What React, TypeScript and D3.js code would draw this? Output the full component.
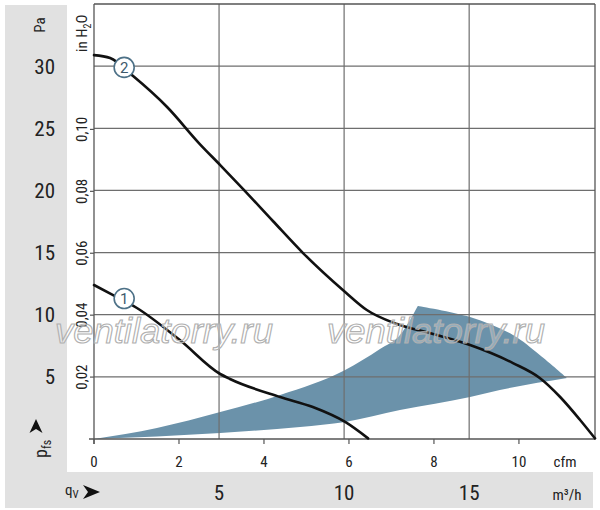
import React from "react";
import * as d3 from "d3";

// ---- data ----
const paTicks = [5, 10, 15, 20, 25, 30];
const inH2OTicks = [0.02, 0.04, 0.06, 0.08, 0.1];
const cfmTicks = [0, 2, 4, 6, 8, 10];
const m3hTicks = [5, 10, 15];

// curve 2 (cfm, Pa)
const curve2: [number, number][] = [
  [0, 30.89], [0.38, 30.65], [0.92, 29.2], [1.72, 26.71], [2.49, 23.73], [2.97, 22.04],
  [3.51, 20.11], [4.21, 17.54], [4.92, 14.96], [5.91, 11.83], [6.42, 10.38], [7.13, 9.25],
  [7.98, 8.45], [8.85, 7.56], [9.86, 6.11], [10.49, 4.91], [10.97, 3.38], [11.44, 1.53], [11.79, 0.05],
];
// curve 1 (cfm, Pa)
const curve1: [number, number][] = [
  [0, 12.39], [0.45, 11.58], [1.01, 10.54], [2.02, 7.96], [2.97, 5.23], [3.2, 4.83],
  [4.38, 3.38], [5.15, 2.57], [5.91, 1.37], [6.45, 0.05],
];
// operating area boundaries (cfm, Pa)
const areaUpper: [number, number][] = [
  [0, 0], [1.48, 0.89], [2.97, 2.17], [4.38, 3.54], [5.91, 5.55], [6.73, 7.24], [7.2, 8.37], [7.62, 10.7],
];
const areaArc: [number, number][] = [
  [7.62, 10.7], [8.85, 9.81], [9.86, 8.37], [10.49, 6.76], [11.13, 4.91],
];
const areaLower: [number, number][] = [
  [11.13, 4.91], [9.55, 3.94], [8.85, 3.38], [7.2, 2.33], [5.91, 1.37], [4.85, 0.97], [2.97, 0.48], [0, 0],
];
const curveLabels = [
  { id: "2", at: [0.71, 29.9] as [number, number] },
  { id: "1", at: [0.71, 11.3] as [number, number] },
];
const watermark = "ventilatorry.ru";

const PA_PER_INH2O = 249.09;
const CFM_PER_M3H = 1 / 1.699;

export default function App() {
  const W = 600, H = 510;
  const x = d3.scaleLinear().domain([0, 11.79]).range([94, 595]);
  const y = d3.scaleLinear().domain([0, 35]).range([439, 4]);
  const mono = d3.line<[number, number]>().x((d) => x(d[0])).y((d) => y(d[1])).curve(d3.curveMonotoneX);
  const cat = d3.line<[number, number]>().x((d) => x(d[0])).y((d) => y(d[1])).curve(d3.curveCatmullRom.alpha(0.5));
  const areaPath =
    (mono(areaUpper) || "") +
    (cat(areaArc) || "").replace(/^M/, "L") +
    (mono(areaLower) || "").replace(/^M/, "L") +
    "Z";
  const font = "'Liberation Sans Narrow', 'Roboto Condensed', Roboto, 'Liberation Sans', sans-serif";
  const gridC = "#6e6e6e";
  const frameC = "#555";
  const txt = "#222";

  return (
    <div style={{ position: "absolute", left: 0, top: 0 }}>
      <svg width={W} height={H} style={{ display: "block" }} fontFamily={font}>
        <rect x={0} y={0} width={W} height={H} fill="#fff" />
        <rect x={5} y={5} width={588} height={503} fill="#e1e1e1" />
        <rect x={67} y={0} width={533} height={472} fill="#fff" />

        {/* blue operating area */}
        <path d={areaPath} fill="#6b92aa" />

        {/* horizontal gridlines */}
        {paTicks.map((p) => (
          <line key={"h" + p} x1={94} x2={595} y1={y(p)} y2={y(p)} stroke={gridC} strokeWidth={1.2} />
        ))}
        {/* vertical gridlines at m3/h */}
        {m3hTicks.map((m) => (
          <line key={"v" + m} x1={x(m * CFM_PER_M3H)} x2={x(m * CFM_PER_M3H)} y1={4} y2={439} stroke={gridC} strokeWidth={1.2} />
        ))}
        {/* frame */}
        <line x1={94} x2={595} y1={4} y2={4} stroke={frameC} strokeWidth={1.3} />
        <line x1={595} x2={595} y1={4} y2={439} stroke={frameC} strokeWidth={1.3} />
        <line x1={94} x2={94} y1={4} y2={444} stroke={frameC} strokeWidth={1.3} />
        <line x1={89} x2={595} y1={439} y2={439} stroke={frameC} strokeWidth={1.3} />

        {/* inH2O ticks */}
        {inH2OTicks.map((t) => (
          <line key={"it" + t} x1={90} x2={94} y1={y(t * PA_PER_INH2O)} y2={y(t * PA_PER_INH2O)} stroke={frameC} strokeWidth={1.2} />
        ))}
        {/* cfm ticks */}
        {cfmTicks.map((c) => (
          <line key={"ct" + c} x1={x(c)} x2={x(c)} y1={439} y2={444} stroke={frameC} strokeWidth={1.2} />
        ))}

        {/* curves */}
        <path d={mono(curve2) || ""} fill="none" stroke="#111" strokeWidth={2.6} strokeLinecap="round" />
        <path d={mono(curve1) || ""} fill="none" stroke="#111" strokeWidth={2.6} strokeLinecap="round" />

        {curveLabels.map((l) => (
          <g key={l.id} transform={`translate(${x(l.at[0])},${y(l.at[1])})`}>
            <circle r={10} fill="#fff" stroke="#4d7187" strokeWidth={1.6} />
            <text y={5.5} textAnchor="middle" fontSize={15} fill="#3e5a6c" fontFamily="Roboto, sans-serif">{l.id}</text>
          </g>
        ))}

        {/* Pa labels */}
        {paTicks.map((p) => (
          <text key={"pl" + p} x={55} y={y(p) + 7.5} textAnchor="end" fontSize={21} fill={txt}>{p}</text>
        ))}
        <text transform="translate(45,25) rotate(-90)" textAnchor="middle" fontSize={15} fill={txt}>Pa</text>

        {/* inH2O labels */}
        {inH2OTicks.map((t) => (
          <text key={"il" + t} transform={`translate(87,${y(t * PA_PER_INH2O)}) rotate(-90)`} textAnchor="middle" fontSize={15} fill={txt}>
            {t.toFixed(2).replace(".", ",")}
          </text>
        ))}
        <text transform="translate(87,52) rotate(-90)" fontSize={15} fill={txt}>
          in H<tspan dy={4} fontSize={10}>2</tspan><tspan dy={-4}>O</tspan>
        </text>

        {/* pfs */}
        <path d="M36,419 L42.5,433 L36,429 L29.5,433 Z" fill="#111" />
        <text transform="translate(47,458) rotate(-90)" fontSize={18} fill={txt}>
          p<tspan dy={4} fontSize={12}>fs</tspan>
        </text>

        {/* cfm labels */}
        {cfmTicks.map((c) => (
          <text key={"cl" + c} x={x(c)} y={467} textAnchor="middle" fontSize={15} fill={txt}>{c}</text>
        ))}
        <text x={565} y={467} textAnchor="middle" fontSize={15} fill={txt}>cfm</text>

        {/* m3/h labels */}
        {m3hTicks.map((m) => (
          <text key={"ml" + m} x={x(m * CFM_PER_M3H)} y={500} textAnchor="middle" fontSize={21} fill={txt}>{m}</text>
        ))}
        <text x={567} y={500} textAnchor="middle" fontSize={15} fill={txt}>m³/h</text>
        <text x={65} y={495} fontSize={15} fill={txt}>q<tspan dy={3} fontSize={11}>V</tspan></text>
        <path d="M100,492 L83,485 L88,492 L83,499 Z" fill="#111" />

        {/* watermark */}
        {[55, 327].map((wx) => (
          <text key={"w" + wx} x={wx} y={343} fontSize={35} fontStyle="italic" fontFamily="'Liberation Sans', Arial, sans-serif"
            textLength={218} lengthAdjust="spacingAndGlyphs" fill="rgba(255,255,255,0.25)" stroke="#b0b0b0" strokeWidth={1.1}>
            {watermark}
          </text>
        ))}
      </svg>
    </div>
  );
}
